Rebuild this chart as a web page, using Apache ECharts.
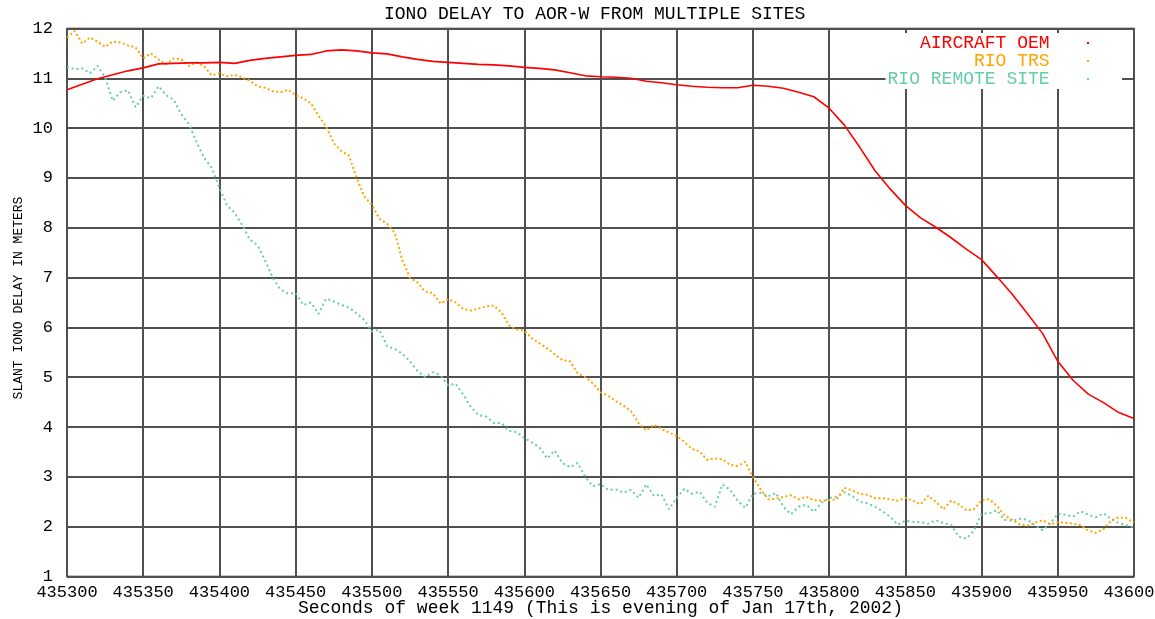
<!DOCTYPE html>
<html>
<head>
<meta charset="utf-8">
<title>IONO DELAY TO AOR-W FROM MULTIPLE SITES</title>
<script src="https://cdn.jsdelivr.net/npm/echarts@6/dist/echarts.min.js"></script>
<style>
  html, body { margin: 0; padding: 0; background: #fff; }
  #chart { width: 1155px; height: 619px; }
</style>
</head>
<body>
<div id="chart"></div>
<script>
// Seconds of GPS week 1149 covered by the plot
const X_TICKS = [435300, 435350, 435400, 435450, 435500, 435550, 435600,
                 435650, 435700, 435750, 435800, 435850, 435900, 435950, 436000];
const Y_TICKS = [1, 2, 3, 4, 5, 6, 7, 8, 9, 10, 11, 12];

// Sampling grid of each record (first epoch and spacing in seconds)
const TIME_START = 435300;
const OEM_STEP = 10;
const GROUND_STEP = 5;

const SERIES_NAMES = ['AIRCRAFT OEM', 'RIO TRS', 'RIO REMOTE SITE'];

// Slant iono delay (m) computed on board, one value every 10 s
const AIRCRAFT_OEM = [
  10.77, 10.88, 10.99, 11.07, 11.15, 11.21, 11.29, 11.30, 11.31, 11.31,
  11.32, 11.30, 11.36, 11.40, 11.43, 11.46, 11.48, 11.55, 11.57, 11.55,
  11.51, 11.49, 11.43, 11.38, 11.34, 11.32, 11.30, 11.28, 11.27, 11.25,
  11.22, 11.20, 11.17, 11.11, 11.05, 11.03, 11.02, 11.00, 10.94, 10.91,
  10.87, 10.84, 10.82, 10.81, 10.81, 10.86, 10.84, 10.80, 10.72, 10.63,
  10.40, 10.06, 9.62, 9.15, 8.78, 8.45, 8.20, 8.01, 7.80, 7.57,
  7.36, 7.02, 6.67, 6.28, 5.88, 5.32, 4.94, 4.66, 4.49, 4.29,
  4.17
];

// Slant iono delay (m) at the Rio TRS, one value every 5 s
const RIO_TRS = [
  11.82, 11.95, 11.70, 11.82, 11.74, 11.63, 11.74, 11.72, 11.66, 11.62,
  11.40, 11.50, 11.38, 11.28, 11.40, 11.38, 11.25, 11.32, 11.24, 11.06,
  11.10, 11.04, 11.07, 11.02, 10.95, 10.84, 10.81, 10.74, 10.72, 10.77,
  10.66, 10.60, 10.50, 10.25, 10.03, 9.70, 9.54, 9.45, 9.00, 8.63,
  8.46, 8.18, 8.08, 7.90, 7.35, 7.00, 6.90, 6.72, 6.69, 6.48,
  6.57, 6.50, 6.37, 6.34, 6.38, 6.42, 6.44, 6.30, 6.04, 5.96,
  5.94, 5.78, 5.68, 5.58, 5.46, 5.34, 5.32, 5.08, 5.00, 4.88,
  4.70, 4.63, 4.52, 4.43, 4.32, 4.08, 3.93, 4.05, 3.96, 3.89,
  3.82, 3.70, 3.56, 3.51, 3.34, 3.37, 3.35, 3.24, 3.22, 3.30,
  3.00, 2.75, 2.55, 2.56, 2.60, 2.63, 2.55, 2.60, 2.53, 2.52,
  2.53, 2.55, 2.78, 2.73, 2.66, 2.64, 2.57, 2.57, 2.55, 2.52,
  2.58, 2.52, 2.45, 2.62, 2.50, 2.35, 2.52, 2.45, 2.33, 2.35,
  2.53, 2.55, 2.42, 2.23, 2.14, 2.05, 2.02, 2.08, 2.13, 2.05,
  2.09, 2.08, 2.06, 2.03, 1.92, 1.88, 1.95, 2.12, 2.19, 2.17,
  2.08
];

// Slant iono delay (m) at the Rio remote site, one value every 5 s
const RIO_REMOTE_SITE = [
  11.24, 11.18, 11.20, 11.10, 11.25, 11.02, 10.55, 10.72, 10.76, 10.42,
  10.65, 10.60, 10.84, 10.66, 10.57, 10.28, 10.08, 9.72, 9.40, 9.20,
  8.80, 8.45, 8.30, 8.05, 7.76, 7.65, 7.34, 7.00, 6.76, 6.68,
  6.69, 6.45, 6.50, 6.27, 6.58, 6.52, 6.45, 6.40, 6.28, 6.15,
  5.92, 5.95, 5.62, 5.57, 5.47, 5.32, 5.12, 5.00, 5.10, 5.04,
  4.84, 4.87, 4.65, 4.40, 4.24, 4.21, 4.08, 4.08, 3.92, 3.90,
  3.78, 3.69, 3.59, 3.37, 3.53, 3.28, 3.19, 3.28, 3.00, 2.81,
  2.86, 2.74, 2.75, 2.68, 2.74, 2.58, 2.85, 2.62, 2.65, 2.35,
  2.58, 2.76, 2.66, 2.70, 2.48, 2.40, 2.85, 2.74, 2.52, 2.38,
  2.66, 2.68, 2.61, 2.68, 2.40, 2.25, 2.40, 2.44, 2.30, 2.48,
  2.58, 2.60, 2.69, 2.62, 2.50, 2.47, 2.40, 2.31, 2.20, 2.04,
  2.12, 2.10, 2.09, 2.06, 2.13, 2.07, 2.04, 1.80, 1.76, 1.92,
  2.26, 2.27, 2.33, 2.14, 2.12, 2.16, 2.14, 2.03, 1.93, 2.06,
  2.26, 2.24, 2.20, 2.31, 2.24, 2.19, 2.27, 2.15, 2.07, 2.03,
  1.98
];

const withTimes = (values, step) => values.map((v, i) => [TIME_START + i * step, v]);

const FONT = '"Liberation Mono", "DejaVu Sans Mono", monospace';
const GRID_COLOR = '#505050';
const COLORS = ['#ff0000', '#ffa500', '#66cdaa'];

const chart = echarts.init(document.getElementById('chart'), null, { renderer: 'canvas' });

chart.setOption({
  animation: false,
  backgroundColor: '#ffffff',
  title: {
    text: 'IONO DELAY TO AOR-W FROM MULTIPLE SITES',
    left: 384,
    top: 0,
    padding: [5, 0, 0, 0],
    textStyle: { fontFamily: FONT, fontSize: 18, fontWeight: 'normal', color: '#000', lineHeight: 18 }
  },
  legend: {
    orient: 'vertical',
    align: 'right',
    right: 33,
    top: 33,
    padding: [1, 33, 1, 2],
    itemGap: 0,
    itemWidth: 2,
    itemHeight: 2,
    icon: 'rect',
    backgroundColor: '#ffffff',
    selectedMode: false,
    formatter: name => name + '   ',
    data: SERIES_NAMES.map((n, i) => ({ name: n, textStyle: { color: COLORS[i] } })),
    textStyle: { fontFamily: FONT, fontSize: 18, lineHeight: 16 }
  },
  grid: {
    left: 67,
    right: 21,
    top: 28.5,
    bottom: 42.5,
    containLabel: false,
    outerBoundsMode: 'none',
    show: true,
    borderColor: '#222',
    borderWidth: 1.5,
    backgroundColor: 'transparent'
  },
  xAxis: {
    type: 'value',
    min: X_TICKS[0],
    max: X_TICKS[X_TICKS.length - 1],
    interval: X_TICKS[1] - X_TICKS[0],
    name: 'Seconds of week 1149 (This is evening of Jan 17th, 2002)',
    nameLocation: 'middle',
    nameGap: 23,
    nameMoveOverlap: false,
    nameTextStyle: { fontFamily: FONT, fontSize: 18, color: '#000', lineHeight: 18 },
    axisLine: { show: false },
    axisTick: { show: false },
    axisLabel: {
      margin: 7,
      fontFamily: FONT,
      fontSize: 17,
      color: '#000',
      showMaxLabel: true,
      hideOverlap: false,
      formatter: v => String(v)
    },
    splitLine: { show: true, lineStyle: { color: GRID_COLOR, width: 2 } }
  },
  yAxis: {
    type: 'value',
    min: Y_TICKS[0],
    max: Y_TICKS[Y_TICKS.length - 1],
    interval: Y_TICKS[1] - Y_TICKS[0],
    name: 'SLANT IONO DELAY IN METERS',
    nameLocation: 'middle',
    nameGap: 42,
    nameMoveOverlap: false,
    nameTextStyle: { fontFamily: FONT, fontSize: 13, color: '#000', padding: [0, 0, 0, 9] },
    axisLine: { show: false },
    axisTick: { show: false },
    axisLabel: {
      margin: 14,
      fontFamily: FONT,
      fontSize: 17,
      color: '#000',
      formatter: v => String(v)
    },
    splitLine: { show: true, lineStyle: { color: GRID_COLOR, width: 2 } }
  },
  series: [
    {
      name: SERIES_NAMES[0],
      type: 'line',
      data: withTimes(AIRCRAFT_OEM, OEM_STEP),
      showSymbol: false,
      color: COLORS[0],
      lineStyle: { color: COLORS[0], width: 1.6 },
      z: 4
    },
    {
      name: SERIES_NAMES[1],
      type: 'line',
      data: withTimes(RIO_TRS, GROUND_STEP),
      showSymbol: false,
      color: COLORS[1],
      lineStyle: { color: COLORS[1], width: 2, type: [2, 2.5], cap: 'butt' },
      z: 3
    },
    {
      name: SERIES_NAMES[2],
      type: 'line',
      data: withTimes(RIO_REMOTE_SITE, GROUND_STEP),
      showSymbol: false,
      color: COLORS[2],
      lineStyle: { color: COLORS[2], width: 2, type: [2, 3], cap: 'butt' },
      z: 2
    }
  ]
});
</script>
</body>
</html>
